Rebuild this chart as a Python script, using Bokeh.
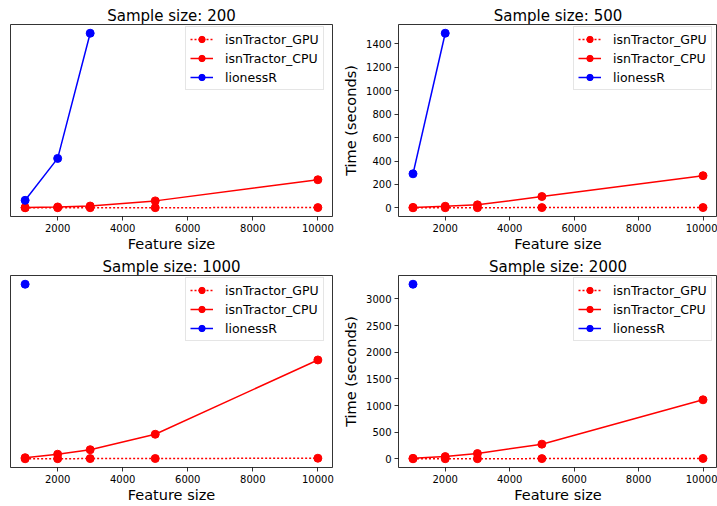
from bokeh.plotting import figure
from bokeh.layouts import column, row
from bokeh.models import Range1d, FixedTicker, Legend, LegendItem
from bokeh.embed import file_html
from bokeh.resources import INLINE

features = [1000, 2000, 3000, 5000, 10000]
x_ticks = [2000, 4000, 6000, 8000, 10000]

# Sample size 200
gpu_200 = [0.5, 0.8, 1.0, 1.2, 1.5]
cpu_200 = [2, 5, 10, 38, 153]
lion_feat_200 = [1000, 2000, 3000]
lion_200 = [41, 269, 950]
yticks_200 = [0, 200, 400, 600, 800]

# Sample size 500
gpu_500 = [1, 1.5, 2, 2.5, 3]
cpu_500 = [4, 14, 26, 97, 275]
lion_feat_500 = [1000, 2000]
lion_500 = [291, 1491]
yticks_500 = [0, 200, 400, 600, 800, 1000, 1200, 1400]

# Sample size 1000
gpu_1000 = [1, 1.5, 2, 2.5, 4]
cpu_1000 = [7, 26, 51, 136, 545]
lion_feat_1000 = [1000]
lion_1000 = [962]
yticks_1000 = [0, 200, 400, 600, 800]

# Sample size 2000
gpu_2000 = [2, 3, 4, 5, 8]
cpu_2000 = [10, 43, 100, 276, 1108]
lion_feat_2000 = [1000]
lion_2000 = [3275]
yticks_2000 = [0, 500, 1000, 1500, 2000, 2500, 3000]

FONT = "DejaVu Sans"


def make_panel(title, gpu, cpu, lfeat, lion, yticks, show_ylabels, width, height,
               mb_left, mb_right, mb_top, mb_bottom):
    allx = features + lfeat
    ally = gpu + cpu + lion
    xmin, xmax = min(allx), max(allx)
    ymin, ymax = min(ally), max(ally)
    xpad = 0.05 * (xmax - xmin)
    ypad = 0.05 * (ymax - ymin)
    p = figure(width=width, height=height, output_backend="svg", toolbar_location=None,
               x_range=Range1d(xmin - xpad, xmax + xpad),
               y_range=Range1d(ymin - ypad, ymax + ypad),
               min_border_left=mb_left, min_border_right=mb_right,
               min_border_top=mb_top, min_border_bottom=mb_bottom,
               background_fill_color="white", border_fill_color="white")
    p.title.text = title
    p.title.align = "center"
    p.title.text_font = FONT
    p.title.text_font_size = "15px"
    p.title.text_font_style = "normal"
    p.title.text_color = "black"
    p.title.standoff = 0
    p.outline_line_color = "black"
    p.outline_line_width = 0.8
    p.grid.visible = False

    l_gpu = p.line(features, gpu, color="red", line_width=1.5, line_dash="2 2")
    s_gpu = p.scatter(features, gpu, color="red", size=8)
    l_cpu = p.line(features, cpu, color="red", line_width=1.5)
    s_cpu = p.scatter(features, cpu, color="red", size=8)
    l_lion = p.line(lfeat, lion, color="blue", line_width=1.5)
    s_lion = p.scatter(lfeat, lion, color="blue", size=8)

    for ax in (p.xaxis[0], p.yaxis[0]):
        ax.axis_line_color = None
        ax.major_tick_line_color = "black"
        ax.major_tick_line_width = 0.8
        ax.major_tick_in = 0
        ax.major_tick_out = 4
        ax.minor_tick_line_color = None
        ax.major_label_text_font = FONT
        ax.major_label_text_font_size = "10px"
        ax.major_label_text_color = "black"
        ax.major_label_standoff = 3
        ax.axis_label_text_font = FONT
        ax.axis_label_text_font_size = "14.5px"
        ax.axis_label_text_font_style = "normal"
        ax.axis_label_text_color = "black"
        ax.axis_label_standoff = 1

    p.xaxis[0].ticker = FixedTicker(ticks=x_ticks)
    p.xaxis[0].axis_label = "Feature size"
    p.yaxis[0].ticker = FixedTicker(ticks=yticks)
    if show_ylabels:
        p.yaxis[0].axis_label = "Time (seconds)"
        p.yaxis[0].axis_label_standoff = 4
    else:
        p.yaxis[0].visible = False

    legend = Legend(items=[
        LegendItem(label="isnTractor_GPU", renderers=[l_gpu, s_gpu]),
        LegendItem(label="isnTractor_CPU", renderers=[l_cpu, s_cpu]),
        LegendItem(label="lionessR", renderers=[l_lion, s_lion]),
    ], location=(175, 126))
    legend.margin = 0
    legend.padding = 4
    legend.spacing = 3
    legend.glyph_width = 23
    legend.glyph_height = 16
    legend.label_height = 16
    legend.label_standoff = 12
    legend.label_text_font = FONT
    legend.label_text_font_size = "12.5px"
    legend.label_text_color = "black"
    legend.border_line_color = "#cccccc"
    legend.border_line_width = 1
    legend.background_fill_color = "white"
    legend.background_fill_alpha = 0.8
    p.add_layout(legend, "center")
    return p


p1 = make_panel("Sample size: 200", gpu_200, cpu_200, lion_feat_200, lion_200, yticks_200,
                False, 340, 255, 10, 8, 24, 39)
p2 = make_panel("Sample size: 500", gpu_500, cpu_500, lion_feat_500, lion_500, yticks_500,
                True, 377, 255, 55, 0, 24, 39)
p3 = make_panel("Sample size: 1000", gpu_1000, cpu_1000, lion_feat_1000, lion_1000, yticks_1000,
                False, 340, 251, 10, 8, 20, 39)
p4 = make_panel("Sample size: 2000", gpu_2000, cpu_2000, lion_feat_2000, lion_2000, yticks_2000,
                True, 377, 251, 55, 0, 20, 39)

layout = column(row(p1, p2), row(p3, p4))

open("out.html", "w").write(file_html(layout, INLINE))
